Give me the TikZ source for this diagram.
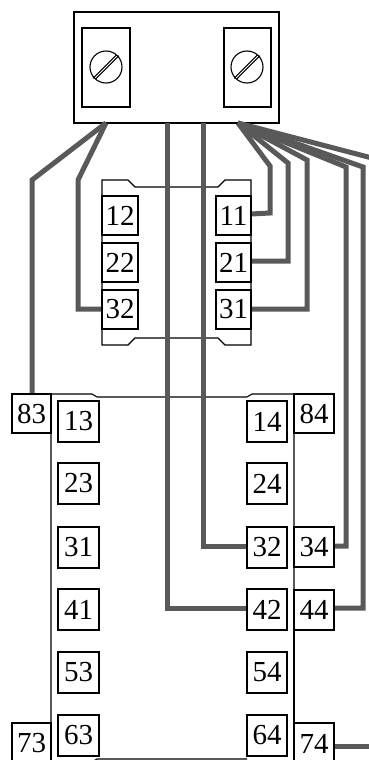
\documentclass[tikz,border=0pt]{standalone}
\usepackage{fontspec}
\setmainfont{Liberation Serif}
\usetikzlibrary{calc}
\tikzset{
  x=1pt,y=-1pt,
  wire/.style={draw=black!65,line width=5pt,line join=miter},
  part/.style={draw=black,line width=1.1pt},
  term/.style={draw=black,line width=1.4pt,fill=white,inner sep=0pt,font=\fontsize{29}{29}\selectfont},
}
\newcommand{\termbox}[6]{% name, x1, y1, x2, y2, text
  \node[term,minimum width=#4pt-#2pt,minimum height=#5pt-#3pt] (#1) at ({(#2+#4)/2},{(#3+#5)/2}) {#6};
}
\newcommand{\screw}[2]{% name, x
  \node[part,circle,minimum size=32pt,inner sep=0pt] (#1) at (#2,67) {};
  \draw[black,line width=1.1pt] ($(#1.north east)+(-1.2,-0.4)$) -- ($(#1.south west)+(-1.2,-0.4)$);
  \draw[black,line width=1.1pt] ($(#1.north east)+(1.2,0.4)$) -- ($(#1.south west)+(1.2,0.4)$);
}
\begin{document}
\begin{tikzpicture}
    \clip (0,0) rectangle (369,760);
    % Top unit with its two screws
    \node[part,minimum width=205pt,minimum height=111pt,inner sep=0pt] (unit) at (176.5,67.5) {};
    \node[part,minimum width=48pt,minimum height=79pt,inner sep=0pt] (leftplate) at (106,67.5) {};
    \node[part,minimum width=47pt,minimum height=79pt,inner sep=0pt] (rightplate) at (247.5,67.5) {};
    \screw{leftscrew}{106}
    \screw{rightscrew}{247}
    % Outlines of the two contact blocks
    \draw[part] (102,180) -- (128,180) -- (135,187) -- (218,187) -- (225,180) -- (251,180)
        -- (251,345) -- (225,345) -- (218,338) -- (135,338) -- (128,345) -- (102,345) -- cycle;
    \draw[part] (51,723) -- (51,394) -- (92,394) -- (97,397) -- (247,397) -- (252,394) -- (294,394) -- (294,723);
    \draw[part] (92,762) -- (97,759) -- (247,759);
    % Anchor points of the wires
    \coordinate (lefthub) at (106,123);
    \coordinate (righthub) at (238,123);
    \coordinate (edgea) at (372,158);
    \coordinate (edgeb) at (372,746);
    % Wires
    \draw[wire] (lefthub) -- (32,180) -- (32,394);
    \draw[wire] (lefthub) -- (78,180) -- (78,309) -- (103,309);
    \draw[wire] (167,123) -- (167,608) -- (247,608);
    \draw[wire] (203,123) -- (203,546) -- (247,546);
    \draw[wire] (righthub) -- (270,166) -- (270,213) -- (251,214);
    \draw[wire] (righthub) -- (288,163) -- (288,261) -- (251,261);
    \draw[wire] (righthub) -- (307,160) -- (307,309) -- (251,309);
    \draw[wire] (righthub) -- (346,167) -- (346,546) -- (334,546);
    \draw[wire] (righthub) -- (363,167) -- (363,608) -- (334,608);
    \draw[wire] (righthub) -- (edgea);
    \draw[wire] (334,746) -- (edgeb);
    % Terminals of the small block
    \termbox{ta}{102}{196}{138}{235}{12}
    \termbox{tb}{102}{243}{138}{282}{22}
    \termbox{tc}{102}{290}{138}{329}{32}
    \termbox{td}{216}{196}{251}{235}{11}
    \termbox{te}{216}{243}{251}{282}{21}
    \termbox{tf}{216}{290}{251}{329}{31}
    % Terminals of the large block
    \foreach \name/\top/\lab/\rab in {ra/401/13/14,rb/463/23/24,rc/527/31/32,rd/589/41/42,re/652/53/54,rf/715/63/64}{
        \pgfmathtruncatemacro{\bot}{\top+41}
        \termbox{\name l}{58}{\top}{99}{\bot}{\lab}
        \termbox{\name r}{247}{\top}{287}{\bot}{\rab}
    }
    \termbox{oa}{12}{394}{51}{433}{83}
    \termbox{ob}{294}{394}{334}{433}{84}
    \termbox{oc}{294}{527}{334}{567}{34}
    \termbox{od}{294}{590}{334}{630}{44}
    \termbox{oe}{12}{723}{51}{764}{73}
    \termbox{of}{294}{723}{334}{764}{74}
    \draw[part] (294,630) -- (294,723);
\end{tikzpicture}
\end{document}
